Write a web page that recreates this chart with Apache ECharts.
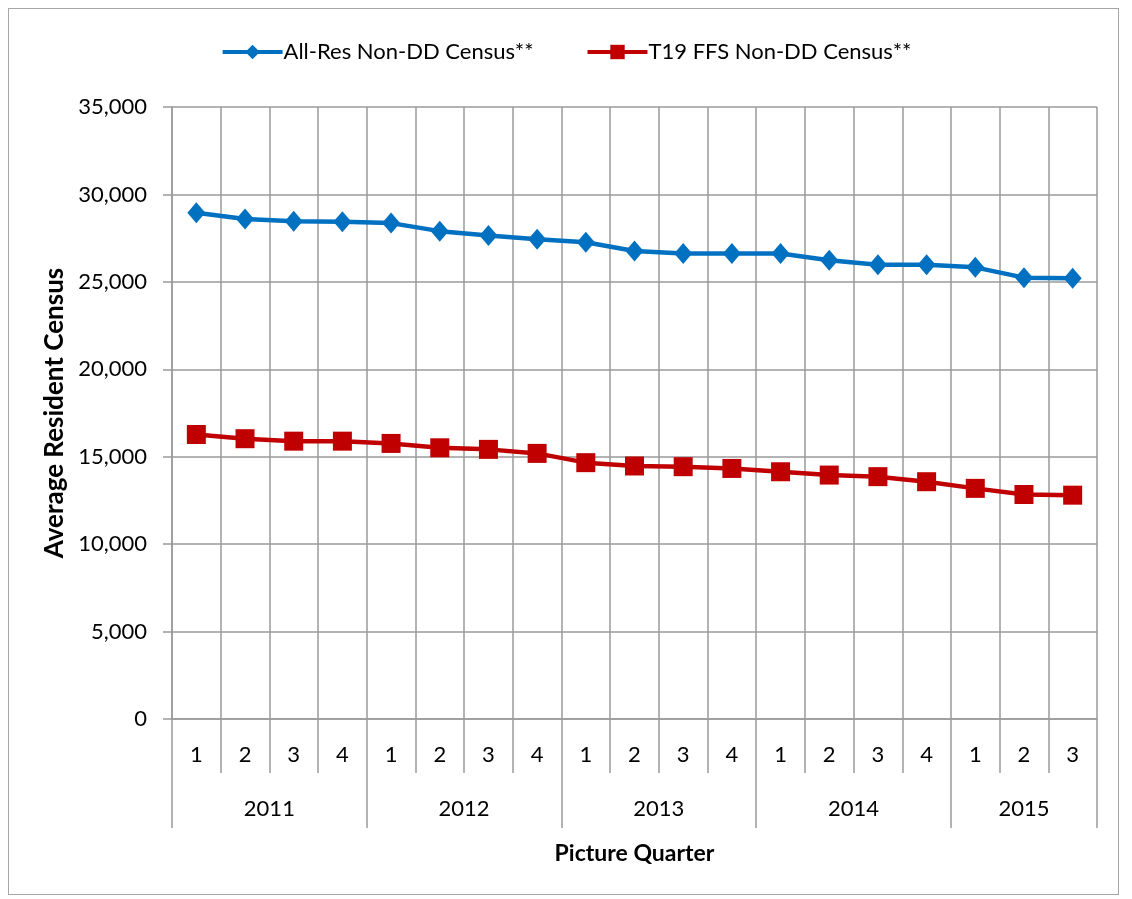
<!DOCTYPE html>
<html>
<head>
<meta charset="utf-8">
<script src="https://cdn.jsdelivr.net/npm/echarts@6/dist/echarts.min.js"></script>
<style>
  html, body { margin: 0; padding: 0; background: #fff; }
  #frame { position: absolute; left: 8px; top: 8px; width: 1111px; height: 887px; border: 1.5px solid #a6a6a6; box-sizing: border-box; }
  #chart { position: absolute; left: 0; top: 0; width: 1132px; height: 899px; }
</style>
</head>
<body>
<div id="frame"></div>
<div id="chart"></div>
<script>
// 季度标签
const quarters = ['1','2','3','4','1','2','3','4','1','2','3','4','1','2','3','4','1','2','3'];
// 年份及其起止（按季度序号）
const years = ['2011', '2012', '2013', '2014', '2015'];
const yearStart = [0, 4, 8, 12, 16];
const yearEnd = [4, 8, 12, 16, 19];
// 两条序列
const allRes = [28950, 28600, 28470, 28440, 28360, 27900, 27650, 27430, 27270, 26760,
                26620, 26620, 26620, 26240, 25980, 25980, 25830, 25240, 25200];
const t19ffs = [16270, 16030, 15890, 15890, 15760, 15510, 15420, 15190, 14660, 14470,
                14430, 14330, 14140, 13950, 13860, 13570, 13190, 12840, 12800];
const yTicks = [0, 5000, 10000, 15000, 20000, 25000, 30000, 35000];

// 年份轴用半季度刻度：0..38
const halfCats = [];
for (let i = 0; i <= quarters.length * 2; i++) halfCats.push(String(i));
const yearLabelAt = {};
years.forEach((y, k) => { yearLabelAt[yearStart[k] + yearEnd[k]] = y; });
const yearTickAt = new Set(yearStart.map(v => v * 2).concat([quarters.length * 2]));

const font = 'Lato, "Open Sans", sans-serif';
const gridColor = '#9a9a9a';

const chart = echarts.init(document.getElementById('chart'), null, {renderer: 'canvas'});
chart.setOption({
  animation: false,
  textStyle: {fontFamily: font, color: '#000'},
  legend: {
    top: 36,
    left: 'center',
    itemWidth: 60,
    itemHeight: 18,
    itemGap: 52,
    lineStyle: {width: 4},
    textStyle: {fontSize: 22, fontFamily: font, color: '#000', padding: [0, 0, 0, -4]},
    data: ['All-Res Non-DD Census**', 'T19 FFS Non-DD Census**']
  },
  grid: {left: 172, right: 35, top: 107, bottom: 180},
  xAxis: [
    {
      type: 'category',
      data: quarters,
      boundaryGap: true,
      axisLine: {lineStyle: {color: gridColor, width: 1.5}},
      axisTick: {show: true, length: 54, interval: 0, lineStyle: {color: gridColor, width: 1.5}},
      axisLabel: {interval: 0, margin: 25, fontSize: 22, color: '#000', fontFamily: font},
      splitLine: {show: true, interval: 0, lineStyle: {color: gridColor, width: 1.5}}
    },
    {
      type: 'category',
      data: halfCats,
      boundaryGap: false,
      position: 'bottom',
      axisLine: {show: false},
      axisTick: {
        show: true, length: 109,
        interval: (idx) => yearTickAt.has(idx),
        lineStyle: {color: gridColor, width: 1.5}
      },
      axisLabel: {
        interval: (idx) => yearLabelAt[idx] !== undefined,
        formatter: (v, idx) => yearLabelAt[idx] || '',
        margin: 79, fontSize: 22, color: '#000', fontFamily: font
      },
      splitLine: {show: false},
      name: 'Picture Quarter',
      nameLocation: 'middle',
      nameGap: 123,
      nameTextStyle: {fontSize: 23, fontWeight: 'bold', color: '#000', fontFamily: font}
    }
  ],
  yAxis: {
    type: 'value',
    min: 0,
    max: 35000,
    interval: 5000,
    axisLine: {show: true, lineStyle: {color: gridColor, width: 1.5}},
    axisTick: {show: true, length: 9, lineStyle: {color: gridColor, width: 1.5}},
    axisLabel: {
      fontSize: 22, color: '#000', margin: 25, fontFamily: font,
      formatter: (v) => yTicks.includes(v) ? v.toLocaleString('en-US') : ''
    },
    splitLine: {lineStyle: {color: gridColor, width: 1.5}},
    name: 'Average Resident Census',
    nameLocation: 'middle',
    nameGap: 103,
    nameTextStyle: {fontSize: 26, fontWeight: 'bold', color: '#000', fontFamily: font}
  },
  series: [
    {
      name: 'All-Res Non-DD Census**',
      type: 'line',
      data: allRes,
      xAxisIndex: 0,
      symbol: 'diamond',
      symbolSize: [18, 21],
      lineStyle: {color: '#0070c0', width: 4.5},
      itemStyle: {color: '#0070c0'}
    },
    {
      name: 'T19 FFS Non-DD Census**',
      type: 'line',
      data: t19ffs,
      xAxisIndex: 0,
      symbol: 'rect',
      symbolSize: 19,
      lineStyle: {color: '#c00000', width: 4.5},
      itemStyle: {color: '#c00000'}
    }
  ]
});
</script>
</body>
</html>
